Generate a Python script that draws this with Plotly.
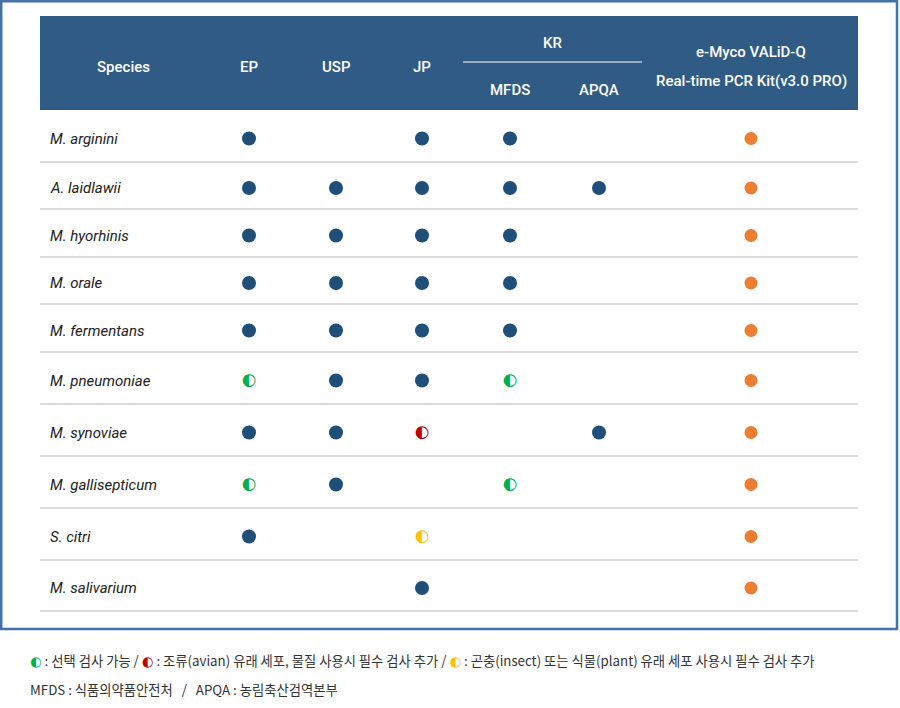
import plotly.graph_objects as go

# ---------------- data ----------------
species = ["M. arginini", "A. laidlawii", "M. hyorhinis", "M. orale", "M. fermentans",
           "M. pneumoniae", "M. synoviae", "M. gallisepticum", "S. citri", "M. salivarium"]
columns = ["EP", "USP", "JP", "MFDS", "APQA", "eMyco"]
# F = required (filled), G = optional (green half), R = avian-origin (red half),
# Y = insect/plant-origin (yellow half), O = e-Myco detects (orange), "" = none
EP    = ["F", "F", "F", "F", "F", "G", "F", "G", "F", ""]
USP   = ["",  "F", "F", "F", "F", "F", "F", "F", "",  ""]
JP    = ["F", "F", "F", "F", "F", "F", "R", "",  "Y", "F"]
MFDS  = ["F", "F", "F", "F", "F", "G", "",  "G", "",  ""]
APQA  = ["",  "F", "",  "",  "",  "",  "F", "",  "",  ""]
EMYCO = ["O", "O", "O", "O", "O", "O", "O", "O", "O", "O"]
series = {"EP": EP, "USP": USP, "JP": JP, "MFDS": MFDS, "APQA": APQA, "eMyco": EMYCO}

header_single = ["Species", "EP", "USP", "JP"]
kr_group = "KR"
kr_sub = ["MFDS", "APQA"]
emyco_head = ["e-Myco VALiD-Q", "Real-time PCR Kit(v3.0 PRO)"]

legend_line1 = [("◐", "#00B050", " : 선택 검사 가능 / "),
                ("◐", "#C00000", " : 조류(avian) 유래 세포, 물질 사용시 필수 검사 추가 / "),
                ("◐", "#FFC000", " : 곤충(insect) 또는 식물(plant) 유래 세포 사용시 필수 검사 추가")]
legend_line2 = "MFDS : 식품의약품안전처\u00a0\u00a0\u00a0/\u00a0\u00a0\u00a0APQA : 농림축산검역본부"

# ---------------- layout geometry ----------------
W, H = 900, 708
col_x = {"Species": 123, "EP": 249, "USP": 336, "JP": 422, "MFDS": 510, "APQA": 599, "eMyco": 751}
row_lines = [110, 162, 209, 257, 304, 352, 404, 456, 508, 560, 611]
row_y = [(row_lines[i] + row_lines[i + 1]) / 2 + 2.5 for i in range(len(species))]
table_x0, table_x1 = 40, 858
kr_line = (463, 642)

BLUE = "#1F4E79"
ORANGE = "#ED7D31"
half_colors = {"G": "#00B050", "R": "#C00000", "Y": "#FFC000"}

fig = go.Figure()

# full circles
for code, color, size in [("F", BLUE, 14), ("O", ORANGE, 13)]:
    xs, ys = [], []
    for c in columns:
        for i, v in enumerate(series[c]):
            if v == code:
                xs.append(col_x[c]); ys.append(row_y[i])
    fig.add_trace(go.Scatter(x=xs, y=ys, mode="markers",
                             marker=dict(symbol="circle", size=size, color=color, line=dict(width=0)),
                             hoverinfo="skip", showlegend=False))

# half circles (left half filled)
for code, color in half_colors.items():
    xs, ys = [], []
    for c in columns:
        for i, v in enumerate(series[c]):
            if v == code:
                xs.append(col_x[c]); ys.append(row_y[i])
    fig.add_trace(go.Scatter(x=xs, y=ys, mode="text", text=["◐"] * len(xs),
                             textposition="middle center",
                             textfont=dict(family="DejaVu Sans", size=16.5, color=color),
                             hoverinfo="skip", showlegend=False))

shapes = []
# outer frame
shapes.append(dict(type="rect", xref="x", yref="y", x0=1.2, x1=897, y0=1.2, y1=629,
                   line=dict(color="#4472A6", width=2.5), fillcolor="rgba(0,0,0,0)", layer="below"))
# header band
shapes.append(dict(type="rect", xref="x", yref="y", x0=table_x0, x1=table_x1, y0=16, y1=110,
                   line=dict(width=0), fillcolor="#2F5B85", layer="below"))
# KR underline
shapes.append(dict(type="line", xref="x", yref="y", x0=kr_line[0], x1=kr_line[1], y0=62, y1=62,
                   line=dict(color="#FFFFFF", width=1.2)))
# row separators
for yl in row_lines[1:]:
    shapes.append(dict(type="line", xref="x", yref="y", x0=table_x0, x1=table_x1, y0=yl, y1=yl,
                       line=dict(color="#B8B8B8", width=1.2), layer="below"))

ann = []
hfont = dict(family="Roboto", size=15, color="#FFFFFF", weight=500)
for h in header_single:
    ann.append(dict(x=col_x[h], y=67, text=h, font=hfont))
ann.append(dict(x=(kr_line[0] + kr_line[1]) / 2, y=43, text=kr_group, font=hfont))
for h in kr_sub:
    ann.append(dict(x=col_x[h], y=90, text=h, font=hfont))
ann.append(dict(x=col_x["eMyco"], y=52, text=emyco_head[0], font=hfont))
ann.append(dict(x=col_x["eMyco"], y=81, text=emyco_head[1], font=hfont))

for i, s in enumerate(species):
    ann.append(dict(x=48, y=row_y[i], text=s, xanchor="left",
                    font=dict(family="Roboto", size=15, color="#222222", style="italic")))

line1 = "".join(f'<span style="color:{c};font-family:DejaVu Sans">{g}</span>{t}' for g, c, t in legend_line1)
lfont = dict(family="Noto Sans CJK KR", size=13.3, color="#333333")
ann.append(dict(x=28, y=660, text=line1, xanchor="left", font=lfont))
ann.append(dict(x=28, y=689, text=legend_line2, xanchor="left", font=lfont))

for a in ann:
    a.setdefault("xref", "x"); a.setdefault("yref", "y")
    a.setdefault("showarrow", False); a.setdefault("yanchor", "middle")
    a.setdefault("xanchor", "center")

fig.update_layout(
    width=W, height=H, autosize=False,
    margin=dict(l=0, r=0, t=0, b=0),
    paper_bgcolor="#FFFFFF", plot_bgcolor="#FFFFFF",
    xaxis=dict(range=[0, W], visible=False, fixedrange=True),
    yaxis=dict(range=[H, 0], visible=False, fixedrange=True),
    shapes=shapes, annotations=ann,
)

fig.write_html("out.html", config={"displayModeBar": False},
               post_script="document.body.style.margin='0';")
